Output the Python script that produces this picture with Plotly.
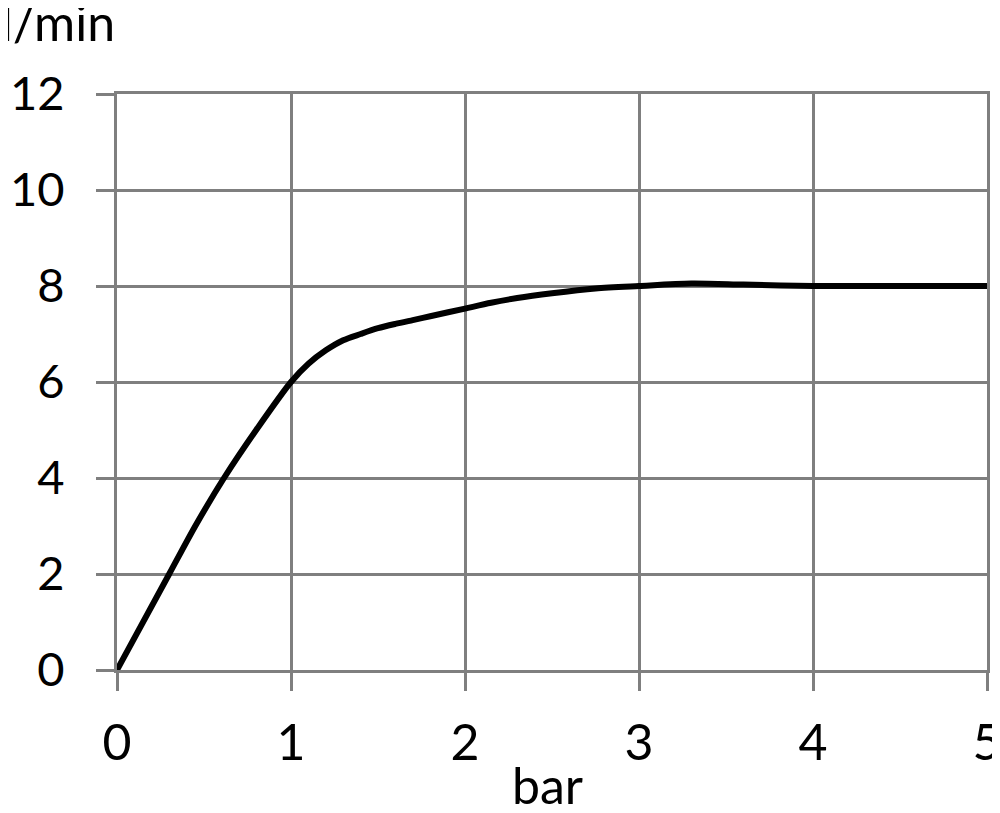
import plotly.graph_objects as go

# pressure (bar) vs flow (l/min)
pressure_bar = [0, 0.3, 0.45, 0.615, 0.8, 1.0, 1.1, 1.2, 1.3, 1.4, 1.5,
                1.6, 1.7, 1.8, 2.0, 2.15, 2.3, 2.5, 2.75, 3.0, 3.3, 3.6, 4.0, 4.5, 5.0]
flow_lpm = [0, 2.0, 3.0, 4.0, 5.0, 6.0, 6.38, 6.66, 6.87, 7.0, 7.12,
            7.21, 7.29, 7.37, 7.53, 7.65, 7.75, 7.85, 7.95, 8.0, 8.05, 8.03, 8.0, 8.0, 8.0]

x_ticks = [0, 1, 2, 3, 4, 5]
y_ticks = [0, 2, 4, 6, 8, 10, 12]

GRID = "#7f7f7f"
FONT = dict(family="Lato, Carlito, sans-serif", size=50, color="black")
Y_FONT = dict(FONT, size=47)

fig = go.Figure()
fig.add_trace(
    go.Scatter(
        x=pressure_bar,
        y=flow_lpm,
        mode="lines",
        line=dict(color="black", width=6, shape="spline", smoothing=0.8),
        showlegend=False,
        hoverinfo="skip",
    )
)

axis_common = dict(
    showgrid=True,
    gridcolor=GRID,
    gridwidth=3,
    zeroline=False,
    showline=True,
    linecolor=GRID,
    linewidth=3,
    mirror=True,
    ticks="outside",
    ticklen=18,
    tickwidth=3,
    tickcolor=GRID,
    automargin=False,
    ticklabeloverflow="allow",
)

fig.update_xaxes(range=[0, 5], tickvals=x_ticks, ticklabelstandoff=9,
                 tickfont=FONT, **axis_common)
fig.update_yaxes(range=[0, 12], tickvals=y_ticks, ticklabelstandoff=22,
                 tickfont=Y_FONT, **axis_common)

fig.add_annotation(
    text="l/min", xref="paper", yref="paper", x=0, y=1.0, yshift=40,
    xanchor="right", yanchor="bottom", showarrow=False, font=FONT,
)
fig.add_annotation(
    text="bar", xref="paper", yref="paper", x=0.495, y=0, yshift=-83,
    xanchor="center", yanchor="top", showarrow=False, font=FONT,
)

# page body keeps its default 8px margin; the right edge runs past the window
# like the cropped "5" in the reference
fig.update_layout(
    width=1000,
    height=805,
    margin=dict(l=109, r=21, t=86, b=143),
    plot_bgcolor="white",
    paper_bgcolor="white",
)

fig.write_html("out.html")
